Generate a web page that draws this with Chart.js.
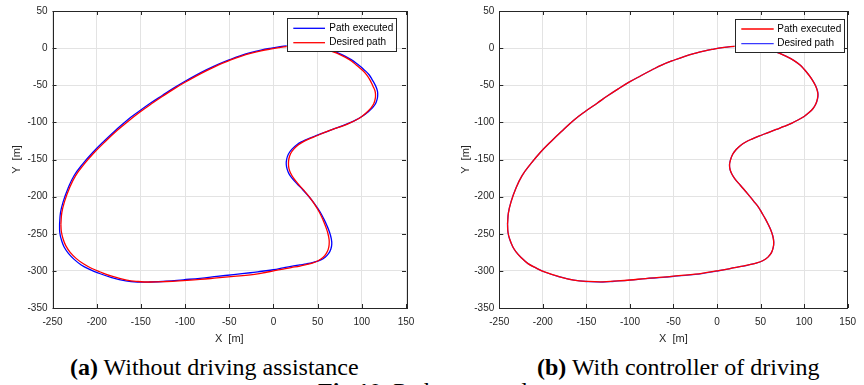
<!DOCTYPE html>
<html>
<head>
<meta charset="utf-8">
<script src="https://cdn.jsdelivr.net/npm/chart.js@4.4.0/dist/chart.umd.min.js"></script>
<style>
  html, body { margin: 0; padding: 0; background: #ffffff; }
  body { width: 864px; height: 385px; overflow: hidden; position: relative; }
  canvas { position: absolute; top: 0; }
  .cap { position: absolute; font-family: "Liberation Serif", "Times New Roman", serif; font-size: 24px; line-height: 24px; color: #000; white-space: nowrap; }
</style>
</head>
<body>
<canvas id="c1" width="432" height="350" style="left:0px"></canvas>
<canvas id="c2" width="432" height="350" style="left:432px"></canvas>
<div class="cap" style="left:70px; top:355px;"><b>(a)</b> Without driving assistance</div>
<div class="cap" style="left:537px; top:355px;"><b>(b)</b> With controller of driving</div>
<div class="cap" style="left:318px; top:379px;"><b>Fig.10.</b> Path executed</div>
<script>
// ---- data ----
const xTicks = [-250, -200, -150, -100, -50, 0, 50, 100, 150];
const yTicks = [-350, -300, -250, -200, -150, -100, -50, 0, 50];
const seriesNames = ["Path executed", "Desired path"];

// (a) Without driving assistance
const leftExecuted = [
  [-242,-237],[-241,-222],[-238,-207],[-232.5,-189],[-225.5,-171.5],[-215.5,-155.5],[-204.5,-140.5],
  [-191.5,-125],[-178.5,-110.5],[-165.5,-97],[-152,-85],[-139,-74],[-125.5,-63.5],[-112.5,-53.5],[-100.5,-45],
  [-88.5,-37],[-75.5,-29],[-62,-21.5],[-49,-15.3],[-37,-10.2],[-26,-6.2],[-14,-2.7],[-3.7,-0.3],[6,1.6],[15,3],
  [25,3.7],[35,3.5],[45,2.2],[55,0],[66,-3.5],[78,-9],[88,-15.5],[96,-22.5],[102.5,-29],[108,-35.5],[112,-43],
  [115.5,-50.5],[117.5,-57],[118,-62],[117.5,-68],[115.5,-75],[112,-80.5],[107,-86],[101,-91.5],[94.5,-96],
  [87.5,-100],[78.5,-104.5],[69,-108.5],[59,-113],[49,-117.5],[40.5,-121.5],[33,-125.5],[26.5,-130],[21,-136],
  [17,-142.5],[15,-149.5],[14.5,-156.5],[15.5,-163],[17.5,-169],[21,-175],[26.5,-182.5],[33,-190.5],[40.5,-200.5],
  [47,-210.5],[52.5,-220],[57,-230],[60.5,-239],[63.5,-248],[65.5,-257],[66,-264],[65,-270.5],[62.5,-276.5],
  [58.5,-281.5],[53,-285.5],[45,-288.5],[37.5,-290.5],[30,-292],[20,-294],[11,-296],[0,-298.5],[-13,-300.5],
  [-26,-302.5],[-45,-305],[-64,-307.5],[-83,-310],[-102,-312],[-121,-314],[-140,-315],[-154,-315],[-167,-313.5],
  [-183,-309],[-198,-303],[-208,-298],[-217.5,-292],[-225.5,-284.5],[-232,-276.5],[-237,-267.5],[-240,-258],
  [-241.8,-248],[-242,-237]
];
const leftDesired = [
  [-240.5,-237],[-239.5,-222],[-236.5,-207],[-231,-189],[-224,-172],[-214,-156],[-203,-141],
  [-190,-125.5],[-177,-111],[-164,-98],[-151,-86],[-138,-75],[-125,-64.5],[-112,-54.5],[-100,-46],
  [-88,-38],[-75,-30],[-62,-22.5],[-49,-16.3],[-37,-11.2],[-26,-7.2],[-14,-3.7],[-3.7,-1.3],[6,0.6],[15,2],
  [25,2.6],[35,2.4],[45,1.2],[55,-0.8],[66,-4.5],[77,-9.7],[86,-15.5],[94,-23],[100.5,-29.5],[105.5,-36],[109.5,-43.5],
  [112.5,-51],[114.8,-57],[115.5,-62],[115.2,-68],[113.5,-75],[110.5,-80.5],[106,-86],[100,-92],[94,-96.5],
  [87,-100.5],[78,-105],[68,-109],[58,-113.5],[49,-118],[41,-122],[34,-126],[28,-130.5],[23,-136],
  [19.5,-142],[17.5,-149],[17,-155.5],[17.5,-162],[19.5,-168.5],[23,-175.5],[28,-183],[34,-191],[41,-201],
  [47,-211],[52,-221],[56,-231],[59,-240],[61.5,-249],[63,-258],[63,-265],[62,-271],[59.5,-277],
  [56,-282],[51,-286],[44,-289.5],[37,-291.5],[30,-293.5],[20,-295.5],[11,-297.5],[0,-300],[-13,-303],
  [-26,-305.5],[-45,-307.5],[-64,-309.5],[-83,-311.5],[-102,-313],[-121,-314.3],[-140,-315],[-153,-314.3],[-166,-312.5],
  [-182,-307.5],[-196,-301.5],[-206,-296.5],[-215,-290.5],[-223,-283.5],[-230,-275],[-235,-266],[-238,-257],
  [-240,-247],[-240.5,-237]
];

// (b) With controller of driving
const rightExecuted = [
  [-240.5,-237],[-239.5,-222],[-236.5,-207],[-231,-189],[-224,-172],[-214,-156],[-203,-140.5],
  [-190,-125],[-177,-110.5],[-164.5,-97],[-151,-85],[-138,-74.5],[-126,-64.5],[-113,-54.5],[-100.5,-45.5],
  [-88,-37.5],[-75,-29.5],[-63,-22.5],[-49,-16],[-37,-11],[-25.4,-7],[-14,-3.6],[-3.5,-1.2],[6,0.7],[15.5,2.1],
  [25,2.8],[35,2.5],[45,1.2],[55,-0.8],[66,-4.5],[79,-10.8],[88,-16.5],[95,-22.5],[100,-28.5],[105,-35.5],[109.5,-43],
  [113.2,-51],[115,-57],[115.8,-62],[115.3,-68],[113.5,-75],[110.5,-81],[106,-86.5],[100,-92],[93.5,-96.5],
  [86,-101],[77,-105.5],[68,-109.5],[58,-114],[48,-118.5],[40,-122.5],[33,-126.5],[27,-131],[22,-136.5],
  [18,-143],[15.5,-150.5],[14.4,-157],[15,-163.5],[17,-169.5],[20.5,-176],[27,-185],[35,-196],[42,-206],
  [47.5,-214],[51.3,-221.5],[55.5,-230],[59,-238],[61.7,-245],[64,-253],[65.1,-261],[64.5,-268.5],[62.5,-275.5],
  [58.5,-281.5],[53,-286],[45,-289.5],[37.5,-291.5],[30,-293.5],[20,-295.5],[12,-297.5],[0,-300],[-13,-302.5],
  [-25,-304.5],[-44,-306.5],[-62,-308.5],[-82,-310.3],[-100,-312.3],[-118,-313.8],[-131,-314.7],[-148,-314.2],[-164.4,-312.4],
  [-182,-307.5],[-198,-301.4],[-208,-296],[-217,-290.2],[-225,-282],[-231,-274],[-234.5,-267.5],[-238,-257.5],
  [-240,-248],[-240.5,-237]
];
const rightDesired = [
  [-240.6,-237],[-239.6,-222],[-236.6,-207],[-231.1,-189],[-224,-172],[-214,-156],[-203,-140.5],
  [-190,-125],[-177,-110.5],[-164.5,-97],[-151,-85],[-138,-74.5],[-126,-64.5],[-113,-54.5],[-100.5,-45.5],
  [-88,-37.5],[-75,-29.5],[-63,-22.5],[-49,-16],[-37,-11],[-25.4,-7],[-14,-3.6],[-3.5,-1.2],[6,0.7],[15.5,2.1],
  [25,2.8],[35,2.5],[45,1.2],[55,-0.8],[66,-4.5],[79,-10.8],[88,-16.5],[95,-22.5],[100,-28.5],[105,-35.5],[109.6,-43],
  [113.4,-51],[115.2,-57],[116,-62],[115.5,-68],[113.6,-75],[110.5,-81],[106,-86.5],[100,-92],[93.5,-96.5],
  [86,-101],[77,-105.5],[68,-109.5],[58,-114],[48,-118.5],[40,-122.5],[33,-126.5],[27,-131],[22,-136.5],
  [18,-143],[15.4,-150.5],[14.3,-157],[14.9,-163.5],[17,-169.5],[20.5,-176],[27,-185],[35,-196],[42,-206],
  [47.5,-214],[51.3,-221.5],[55.5,-230],[59,-238],[61.8,-245],[64.1,-253],[65.2,-261],[64.6,-268.5],[62.5,-275.5],
  [58.5,-281.5],[53,-286],[45,-289.7],[37.5,-291.7],[30,-293.7],[20,-295.7],[12,-297.7],[0,-300.2],[-13,-302.7],
  [-25,-304.7],[-44,-306.7],[-62,-308.7],[-82,-310.5],[-100,-312.5],[-118,-314],[-131,-315],[-148,-314.5],[-164.4,-312.6],
  [-182,-307.6],[-198,-301.5],[-208,-296],[-217,-290.2],[-225,-282],[-231,-274],[-234.6,-267.5],[-238.1,-257.5],
  [-240.1,-248],[-240.6,-237]
];

const BLUE = '#0000ff', RED = '#ff0000';
const AX = '#262626';

function toXY(arr) { return arr.map(p => ({x: p[0], y: p[1]})); }

// frame + inward ticks (MATLAB-like box)
const framePlugin = {
  id: 'frame',
  afterDatasetsDraw(chart) {
    const {ctx, chartArea: a, scales} = chart;
    ctx.save();
    ctx.strokeStyle = AX;
    ctx.lineWidth = 1;
    const L = 4;
    ctx.beginPath();
    xTicks.forEach(v => {
      const px = Math.round(scales.x.getPixelForValue(v)) + 0.5;
      ctx.moveTo(px, a.bottom); ctx.lineTo(px, a.bottom - L);
      ctx.moveTo(px, a.top); ctx.lineTo(px, a.top + L);
    });
    yTicks.forEach(v => {
      const py = Math.round(scales.y.getPixelForValue(v)) + 0.5;
      ctx.moveTo(a.left, py); ctx.lineTo(a.left + L, py);
      ctx.moveTo(a.right, py); ctx.lineTo(a.right - L, py);
    });
    ctx.stroke();
    ctx.strokeRect(Math.round(a.left) + 0.5, Math.round(a.top) + 0.5,
                   Math.round(a.right - a.left), Math.round(a.bottom - a.top));
    ctx.restore();
  }
};

// legend box drawn inside the axes
const boxLegend = {
  id: 'boxLegend',
  afterDraw(chart, args, opts) {
    const {ctx} = chart;
    const b = opts.box;
    ctx.save();
    ctx.fillStyle = '#ffffff';
    ctx.fillRect(b[0], b[1], b[2] - b[0], b[3] - b[1]);
    ctx.strokeStyle = AX;
    ctx.lineWidth = 1;
    ctx.strokeRect(Math.round(b[0]) + 0.5, Math.round(b[1]) + 0.5, Math.round(b[2] - b[0]), Math.round(b[3] - b[1]));
    ctx.font = '10px "Liberation Sans", Arial, sans-serif';
    ctx.textBaseline = 'middle';
    ctx.fillStyle = '#000000';
    opts.items.forEach((it, i) => {
      const ds = chart.data.datasets[it];
      const y = opts.rows[i];
      ctx.strokeStyle = ds.borderColor;
      ctx.lineWidth = 1.3;
      ctx.beginPath();
      ctx.moveTo(opts.line[0], y); ctx.lineTo(opts.line[1], y);
      ctx.stroke();
      ctx.fillText(ds.label, opts.textX, y);
    });
    ctx.restore();
  }
};

function makeChart(id, datasets, yWidth, padRight, yTitlePad, legendOpts) {
  return new Chart(document.getElementById(id), {
    type: 'scatter',
    data: { datasets },
    options: {
      responsive: false,
      animation: false,
      devicePixelRatio: 1,
      layout: { padding: { left: 0, right: padRight, top: 7, bottom: 0 } },
      elements: { point: { radius: 0 }, line: { tension: 0.4 } },
      plugins: {
        legend: { display: false },
        tooltip: { enabled: false },
        boxLegend: legendOpts
      },
      scales: {
        x: {
          type: 'linear', min: -250, max: 150,
          afterBuildTicks(s) { s.ticks = xTicks.map(v => ({value: v})); },
          afterFit(s) { s.height = 42; },
          grid: { color: '#e3e3e3', lineWidth: 1, drawTicks: false },
          border: { display: false },
          ticks: { color: AX, padding: 8, maxRotation: 0, autoSkip: false,
                   font: { family: '"Liberation Sans", Arial, sans-serif', size: 10 } },
          title: { display: true, text: 'X  [m]', color: AX, padding: { top: 0, bottom: 4 },
                   font: { family: '"Liberation Sans", Arial, sans-serif', size: 11 } }
        },
        y: {
          type: 'linear', min: -350, max: 50,
          afterBuildTicks(s) { s.ticks = yTicks.map(v => ({value: v})); },
          afterFit(s) { s.width = yWidth; },
          grid: { color: '#e3e3e3', lineWidth: 1, drawTicks: false },
          border: { display: false },
          ticks: { color: AX, padding: 5, autoSkip: false,
                   font: { family: '"Liberation Sans", Arial, sans-serif', size: 10 } },
          title: { display: true, text: 'Y  [m]', color: AX, padding: { top: yTitlePad, bottom: 0 },
                   font: { family: '"Liberation Sans", Arial, sans-serif', size: 11 } }
        }
      }
    },
    plugins: [framePlugin, boxLegend]
  });
}

makeChart('c1', [
  { label: seriesNames[0], data: toXY(leftExecuted), showLine: true, borderColor: BLUE, borderWidth: 1.3, order: 2 },
  { label: seriesNames[1], data: toXY(leftDesired), showLine: true, borderColor: RED, borderWidth: 1.3, order: 1 }
], 52.5, 26, 10, { box: [286.7, 18.3, 395.3, 51.7], line: [293.3, 325], rows: [28.3, 42.7], textX: 329.3, items: [0, 1] });

makeChart('c2', [
  { label: seriesNames[0], data: toXY(rightExecuted), showLine: true, borderColor: RED, borderWidth: 1.3, order: 1 },
  { label: seriesNames[1], data: toXY(rightDesired), showLine: true, borderColor: '#3a3aff', borderWidth: 1.3, order: 2 }
], 67.3, 9.7, 27, { box: [302.7, 19, 411.7, 52.3], line: [309.3, 341.7], rows: [29, 43.7], textX: 345.3, items: [0, 1] });
</script>
</body>
</html>
